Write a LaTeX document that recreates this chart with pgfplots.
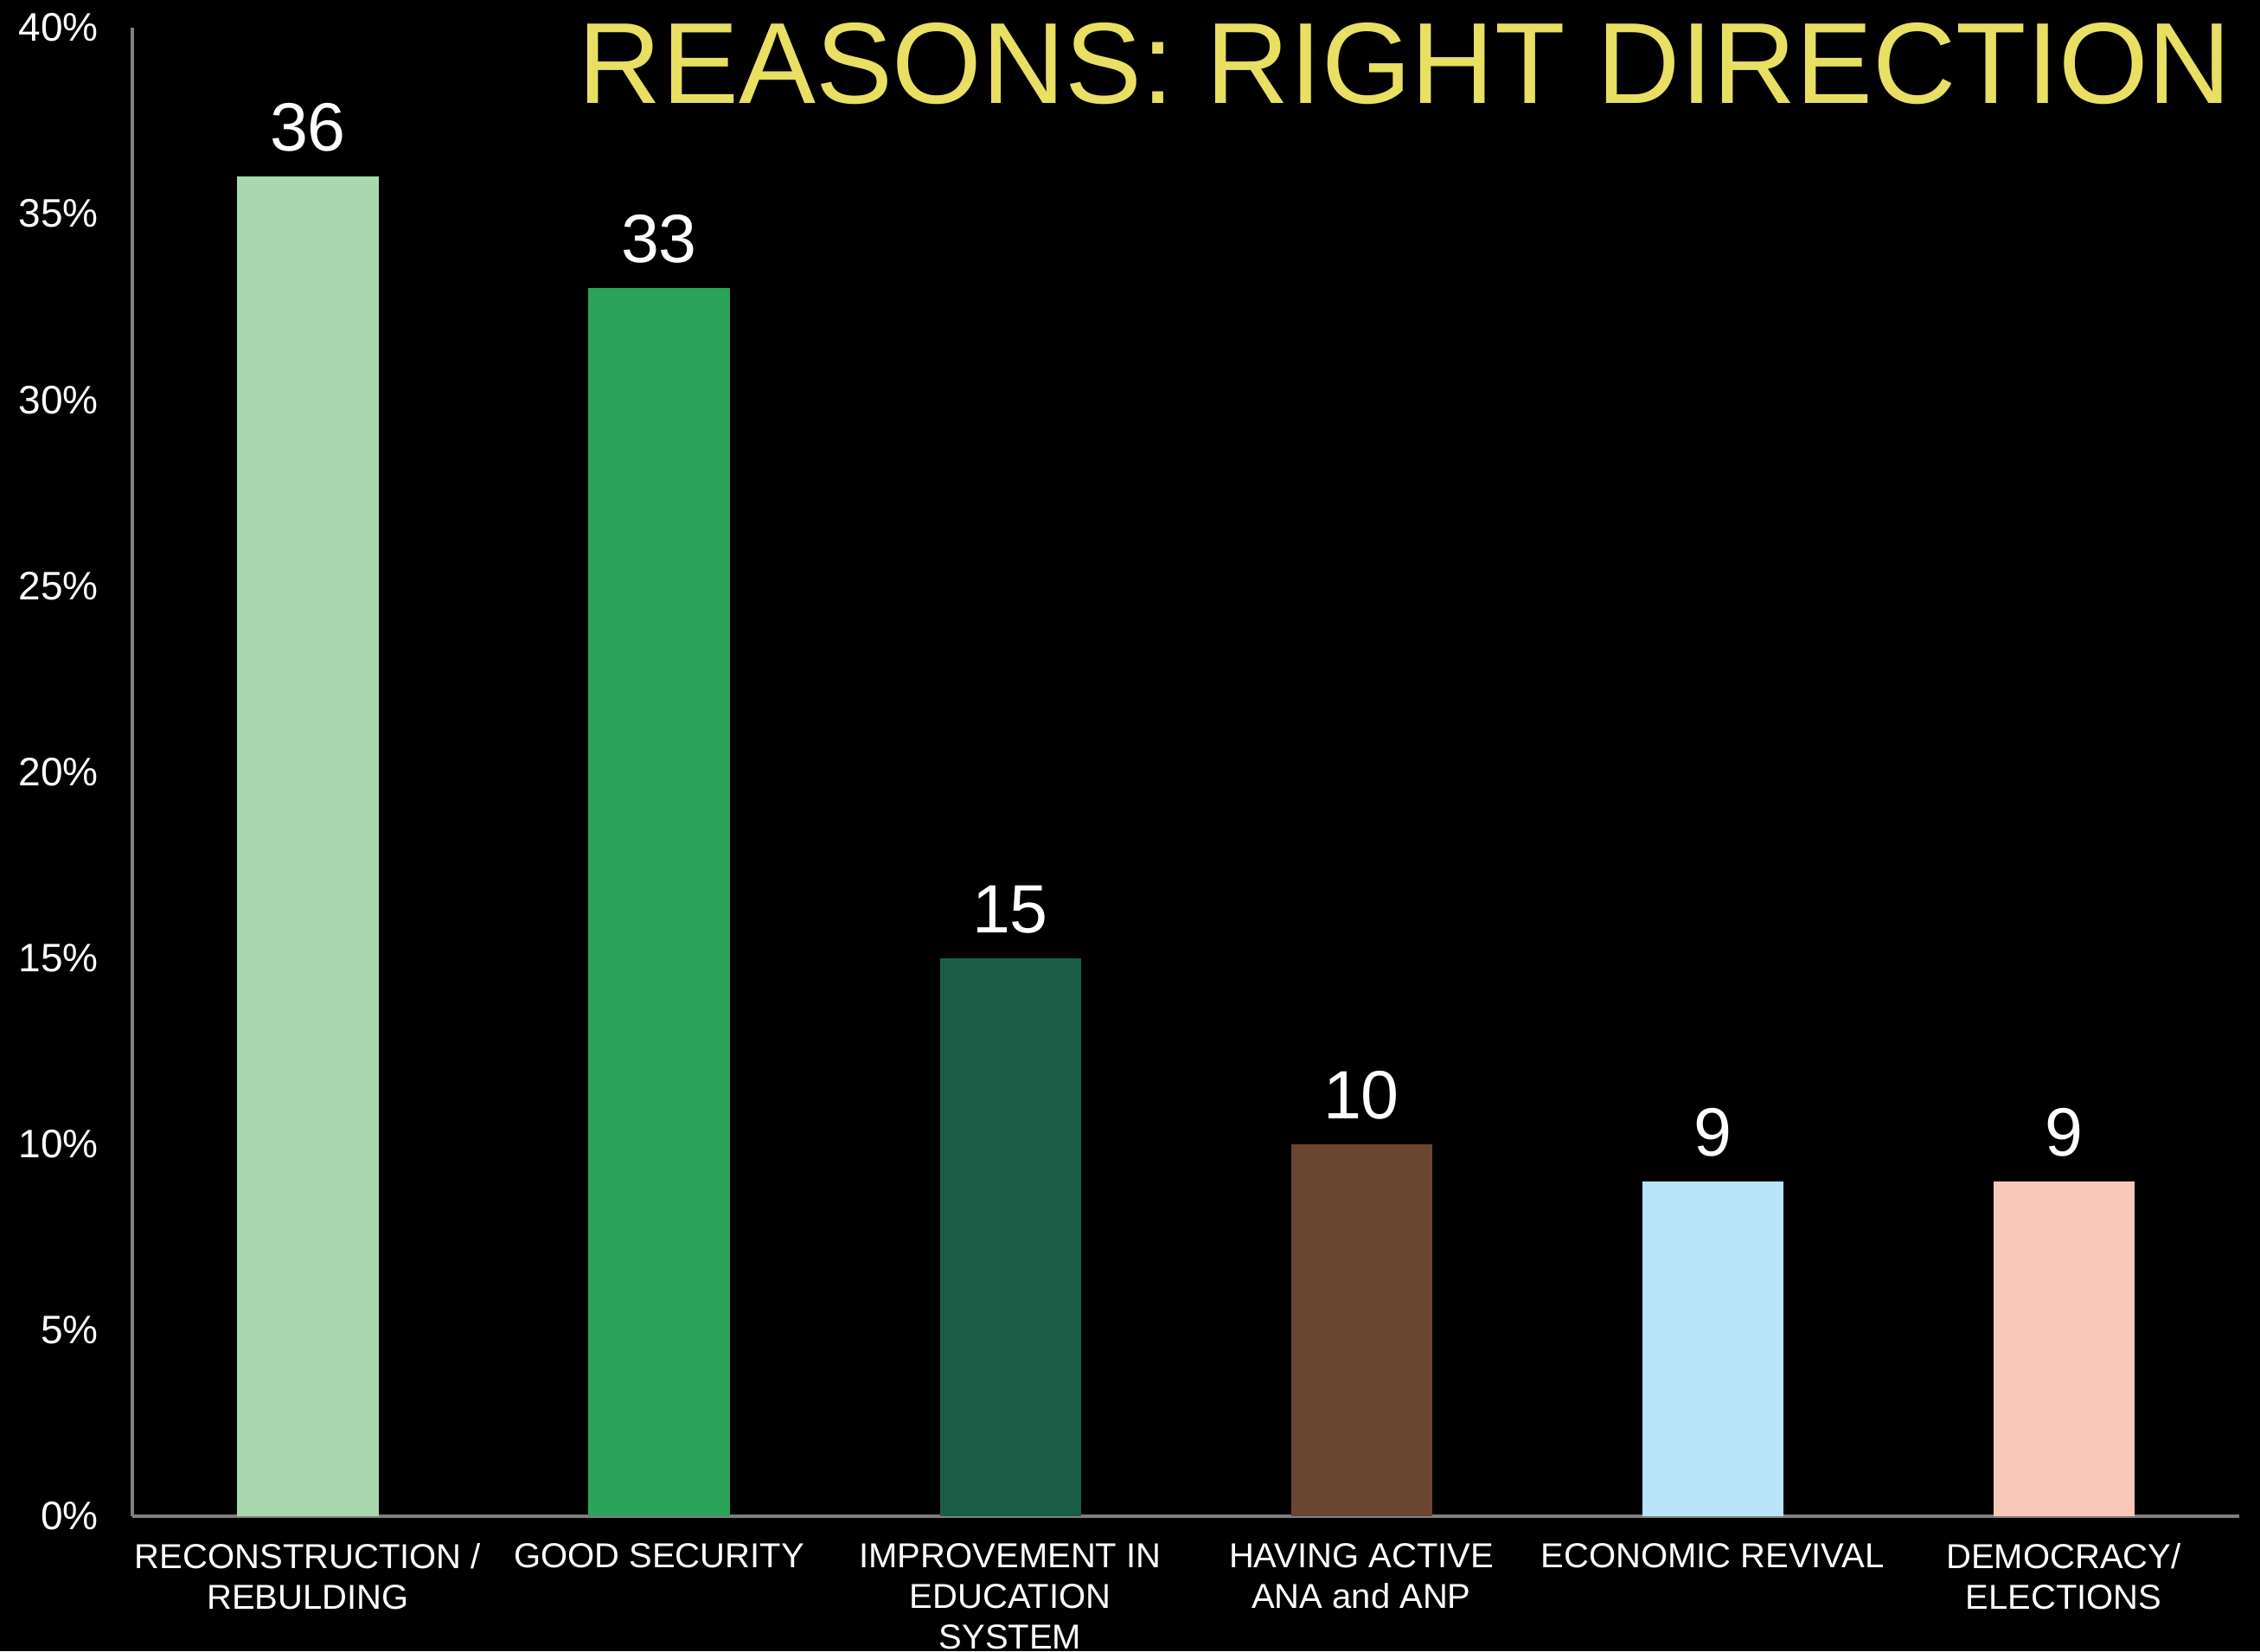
\documentclass[border=0pt]{standalone}
\usepackage{pgfplots}
\pgfplotsset{compat=1.18}
\usepackage{fontspec}
\setmainfont{Liberation Sans}
\definecolor{cA}{HTML}{A9D8AE}
\definecolor{cB}{HTML}{2BA35A}
\definecolor{cC}{HTML}{1A5E48}
\definecolor{cD}{HTML}{6A4530}
\definecolor{cE}{HTML}{B8E5F9}
\definecolor{cF}{HTML}{F9C8BA}
\definecolor{titleY}{HTML}{E8DF63}
\definecolor{axgray}{HTML}{808080}
\begin{document}
\begin{tikzpicture}
\path[use as bounding box, fill=black] (0,0) rectangle (783.9pt,572.7pt);
\begin{axis}[
  at={(45.9pt,46.8pt)}, anchor=south west,
  scale only axis, width=730.8pt, height=516.3pt,
  xmin=-0.5, xmax=5.5, ymin=0, ymax=40,
  ybar, bar width=48.9pt,
  every axis plot/.append style={bar shift=0pt, draw=none},
  axis x line*=bottom, axis y line*=left,
  x axis line style={draw=axgray, line width=1.2pt, -},
  y axis line style={draw=axgray, line width=1pt, -},
  major tick length=0pt,
  xtick={0,1,2,3,4,5},
  xticklabels={RECONSTRUCTION /\\REBULDING, GOOD SECURITY, IMPROVEMENT IN\\EDUCATION\\SYSTEM, HAVING ACTIVE\\ANA and ANP, ECONOMIC REVIVAL, DEMOCRACY/\\ELECTIONS},
  xticklabel style={align=center, text=white, font=\fontsize{12}{14.1}\selectfont, yshift=-6pt},
  ytick={0,5,10,15,20,25,30,35,40},
  yticklabels={0\%,5\%,10\%,15\%,20\%,25\%,30\%,35\%,40\%},
  yticklabel style={text=white, font=\fontsize{13.8}{16}\selectfont, xshift=-8.3pt},
  /pgf/number format/assume math mode=true,
  nodes near coords,
  every node near coord/.append style={text=white, font=\fontsize{23.7}{28}\selectfont, yshift=5pt},
  clip=false,
]
\addplot[fill=cA] coordinates {(0,36)};
\addplot[fill=cB] coordinates {(1,33)};
\addplot[fill=cC] coordinates {(2,15)};
\addplot[fill=cD] coordinates {(3,10)};
\addplot[fill=cE] coordinates {(4,9)};
\addplot[fill=cF] coordinates {(5,9)};
\end{axis}
\node[anchor=base, text=titleY, font=\fontsize{40}{48}\selectfont, inner sep=0pt] at (487.35pt,536.7pt) {REASONS: RIGHT DIRECTION};
\end{tikzpicture}
\end{document}
